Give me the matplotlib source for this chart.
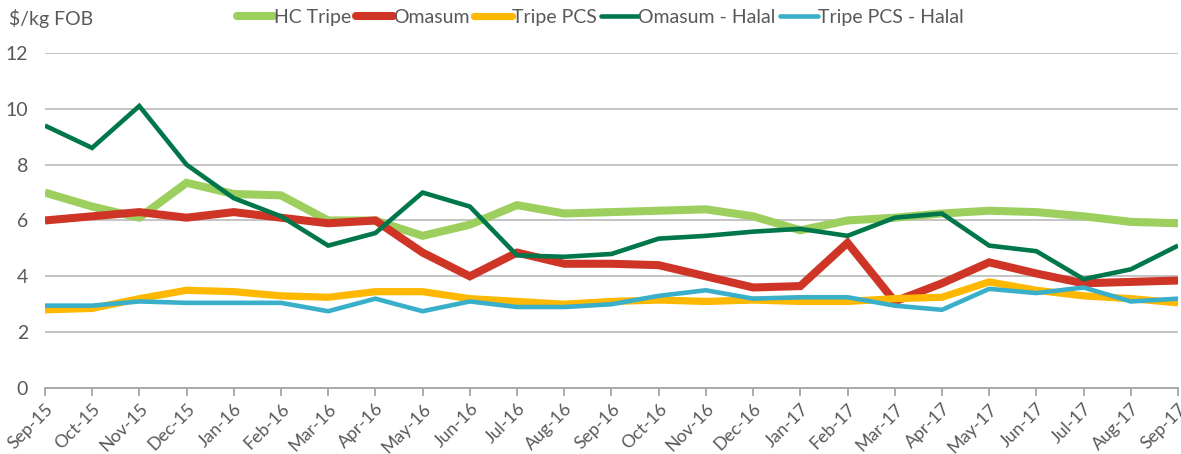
import numpy as np
import matplotlib
matplotlib.use("Agg")
import matplotlib.pyplot as plt

plt.rcParams['font.family'] = ['Lato', 'DejaVu Sans']

# ── Data ───────────────────────────────────────────────────────────────────────
months = ["Sep-15", "Oct-15", "Nov-15", "Dec-15", "Jan-16", "Feb-16", "Mar-16",
          "Apr-16", "May-16", "Jun-16", "Jul-16", "Aug-16", "Sep-16", "Oct-16",
          "Nov-16", "Dec-16", "Jan-17", "Feb-17", "Mar-17", "Apr-17", "May-17",
          "Jun-17", "Jul-17", "Aug-17", "Sep-17"]

hc_tripe = [7.0, 6.5, 6.1, 7.35, 6.95, 6.9, 6.0, 6.0, 5.45, 5.85, 6.55, 6.25,
            6.3, 6.35, 6.4, 6.15, 5.65, 6.0, 6.1, 6.25, 6.35, 6.3, 6.15, 5.95, 5.9]
omasum = [6.0, 6.15, 6.3, 6.1, 6.3, 6.1, 5.9, 6.0, 4.85, 4.0, 4.85, 4.45,
          4.45, 4.4, 4.0, 3.6, 3.65, 5.2, 3.1, 3.75, 4.5, 4.1, 3.75, 3.8, 3.85]
tripe_pcs = [2.8, 2.85, 3.2, 3.5, 3.45, 3.3, 3.25, 3.45, 3.45, 3.2, 3.1, 3.0,
             3.1, 3.15, 3.1, 3.15, 3.1, 3.1, 3.2, 3.25, 3.8, 3.5, 3.3, 3.2, 3.05]
omasum_halal = [9.4, 8.6, 10.1, 8.0, 6.8, 6.15, 5.1, 5.55, 7.0, 6.5, 4.75, 4.7,
                4.8, 5.35, 5.45, 5.6, 5.7, 5.45, 6.1, 6.25, 5.1, 4.9, 3.9, 4.25, 5.1]
tripe_pcs_halal = [2.95, 2.95, 3.1, 3.05, 3.05, 3.05, 2.75, 3.2, 2.75, 3.1, 2.9, 2.9,
                   3.0, 3.3, 3.5, 3.2, 3.25, 3.25, 2.95, 2.8, 3.55, 3.4, 3.6, 3.1, 3.2]

series = [
    ("HC Tripe", hc_tripe, "#9ccf5e", 5.8),
    ("Omasum", omasum, "#cf3526", 5.8),
    ("Tripe PCS", tripe_pcs, "#ffb800", 5.2),
    ("Omasum - Halal", omasum_halal, "#00774a", 3.3),
    ("Tripe PCS - Halal", tripe_pcs_halal, "#3aafca", 3.3),
]

text_col = "#595959"
grid_col = "#bfbfbf"

fig = plt.figure(figsize=(11.81, 4.54), dpi=100)
ax = fig.add_axes([0.038, 0.1454, 0.9595, 0.7379])

x = np.arange(len(months))
for name, vals, col, lw in series:
    ax.plot(x, vals, color=col, lw=lw, label=name,
            solid_joinstyle="miter", solid_capstyle="butt")

ax.set_xlim(0, len(months) - 1)
ax.set_ylim(0, 12)
ax.set_yticks(range(0, 13, 2))
ax.yaxis.grid(True, color=grid_col, lw=1.3)
ax.set_axisbelow(True)
for s in ["top", "right", "left"]:
    ax.spines[s].set_visible(False)
ax.spines["bottom"].set_color("#a6a6a6")
ax.spines["bottom"].set_linewidth(1.3)

ax.set_xticks(x)
ax.set_xticklabels(months, rotation=45, ha="right", rotation_mode="anchor")
ax.tick_params(axis="x", colors="#a6a6a6", length=6, width=1.3,
               labelcolor=text_col, labelsize=12.8, pad=3)
ax.tick_params(axis="y", length=0, labelcolor=text_col, labelsize=14, pad=12)

fig.text(0.008, 0.96, "$/kg FOB", color=text_col, fontsize=14, va="center")

leg = fig.legend(loc="center", bbox_to_anchor=(0.508, 0.962), ncol=5,
                 frameon=False, fontsize=14, handlelength=1.95,
                 handletextpad=0.0, columnspacing=0.2)
for t in leg.get_texts():
    t.set_color(text_col)
for h in leg.get_lines():
    h.set_solid_capstyle("round")

plt.savefig("out.png", dpi=100)
plt.close()
